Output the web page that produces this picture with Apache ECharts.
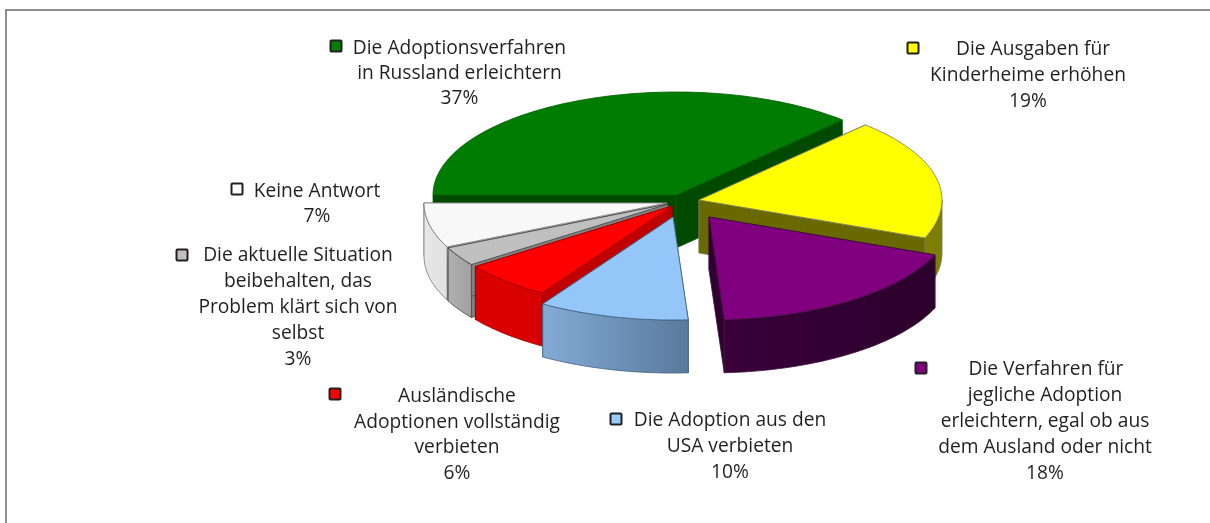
<!DOCTYPE html>
<html><head><meta charset="utf-8">
<style>html,body{margin:0;padding:0;background:#fff}#c{width:1210px;height:523px}</style>
<script src="https://cdn.jsdelivr.net/npm/echarts@6/dist/echarts.min.js"></script>
</head><body><div id="c"></div>
<script>
// ---- data ----
const categories = [
  'Die Adoptionsverfahren\nin Russland erleichtern',
  'Die Ausgaben für\nKinderheime erhöhen',
  'Die Verfahren für\njegliche Adoption\nerleichtern, egal ob aus\ndem Ausland oder nicht',
  'Die Adoption aus den\nUSA verbieten',
  'Ausländische\nAdoptionen vollständig\nverbieten',
  'Die aktuelle Situation\nbeibehalten, das\nProblem klärt sich von\nselbst',
  'Keine Antwort'
];
const values = [37, 19, 18, 10, 6, 3, 7];
// ---- styles ----
const topColors  = ['#007c00','#ffff00','#800080','#95c6f9','#ff0000','#c0c0c0','#f8f8f9'];
const faceColors = ['#004a00','#696900','#300030','#6f93b8','#c00000','#808080','#dddddd'];
const rimLeft    = ['#005000','#7d7d00','#3a003a','#84aad6','#d80000','#b0b0b0','#e8e8e8'];
const rimRight   = ['#005000','#7d7d00','#2c002c','#587a9c','#d80000','#a0a0a0','#e0e0e0'];
const strokes    = ['#006000','#77775a','#3a103a','#3f5f80','#a00000','#444444','#777777'];
const markerColors = ['#008000','#ffff00','#800080','#99ccff','#ff0000','#c0c0c0','#ffffff'];
const drawOrder  = [0, 1, 2, 6, 5, 4, 3];
// ---- layout ----
const startAngle = -90;      // degrees, clockwise from top
const rx = 243, ry = 103, depth = 53;
const apexes = [[676,195],[699,200],[709,217],[673,217],[672,206],[668,204],[667,203]];
const labelCx = [459.5,1028,1045,730,457,298,317];
const labelTop = [49,50,370,421,397,256,192];
const lineStep = [25,26,26,26,25.5,25.8,25];
const firstDx  = [0,5,1,0,0,0,0];
const markers  = [[336,46],[913,48],[921,368],[616,419],[335,394],[182,255],[237,189]];
const textStyle = {fontFamily:'"Open Sans"', fontSize:19.2, fill:'#231f20'};

const total = values.reduce((a,b)=>a+b,0);
const spans = []; let acc = startAngle;
values.forEach(v => { const s = v/total*360; spans.push([acc, acc+s]); acc += s; });
const pt = (c, a, dy=0) => { const r = a*Math.PI/180;
  return [c[0]+rx*Math.sin(r), c[1]-ry*Math.cos(r)+dy]; };
const arc = (c, a0, a1, dy=0) => { const n = Math.max(2, Math.ceil(Math.abs(a1-a0)/1.5)), out=[];
  for (let i=0;i<=n;i++) out.push(pt(c, a0+(a1-a0)*i/n, dy)); return out; };

function renderItem(params, api) {
  const i = params.dataIndex, c = apexes[i], [a0, a1] = spans[i];
  const z = drawOrder.indexOf(i)*10 + 1, kids = [];
  const sw = {stroke: strokes[i], lineWidth: 0.8};
  const down = p => [p[0], p[1]+depth];
  // inner faces
  [a0, a1].forEach(a => { const p = pt(c,a);
    kids.push({type:'polygon', z2:z, shape:{points:[c,p,down(p),down(c)]},
      style:{fill:faceColors[i], ...sw}}); });
  // outer rim: only the front half of the ellipse is visible
  const b0 = Math.max(a0,90), b1 = Math.min(a1,270);
  if (b1 > b0) {
    const top = arc(c,b0,b1), bot = arc(c,b0,b1,depth).reverse();
    kids.push({type:'polygon', z2:z+1, shape:{points:top.concat(bot)},
      style:{fill:{type:'linear',x:0,y:0,x2:1,y2:0,colorStops:[
        {offset:0,color:rimLeft[i]},{offset:1,color:rimRight[i]}]}, ...sw}});
  }
  // top face
  kids.push({type:'polygon', z2:z+2, shape:{points:[c].concat(arc(c,a0,a1))},
    style:{fill:topColors[i], ...sw}});
  // marker and label
  const m = markers[i];
  kids.push({type:'rect', z2:200, shape:{x:m[0]-5.5,y:m[1]-5.5,width:11,height:11,r:1},
    style:{fill:markerColors[i], stroke:'#231f20', lineWidth:2}});
  categories[i].split('\n').concat(api.value(0)+'%').forEach((line,k) => {
    kids.push({type:'text', z2:200, style:{...textStyle, text:line,
      x:labelCx[i]+(k===0?firstDx[i]:0), y:labelTop[i]+k*lineStep[i],
      textAlign:'center', textVerticalAlign:'middle'}});
  });
  return {type:'group', children:kids};
}

const chart = echarts.init(document.getElementById('c'), null, {renderer:'canvas'});
chart.setOption({
  animation:false,
  backgroundColor:'#fff',
  graphic:[{type:'polyline', shape:{points:[[6,523],[6,10],[1210,10]]},
    style:{fill:'none',stroke:'#6a6a6a',lineWidth:1.5}}],
  series:[{type:'custom', coordinateSystem:'none', renderItem,
    data: values.map((v,i)=>({name:categories[i],value:[v]}))}]
});
</script></body></html>
